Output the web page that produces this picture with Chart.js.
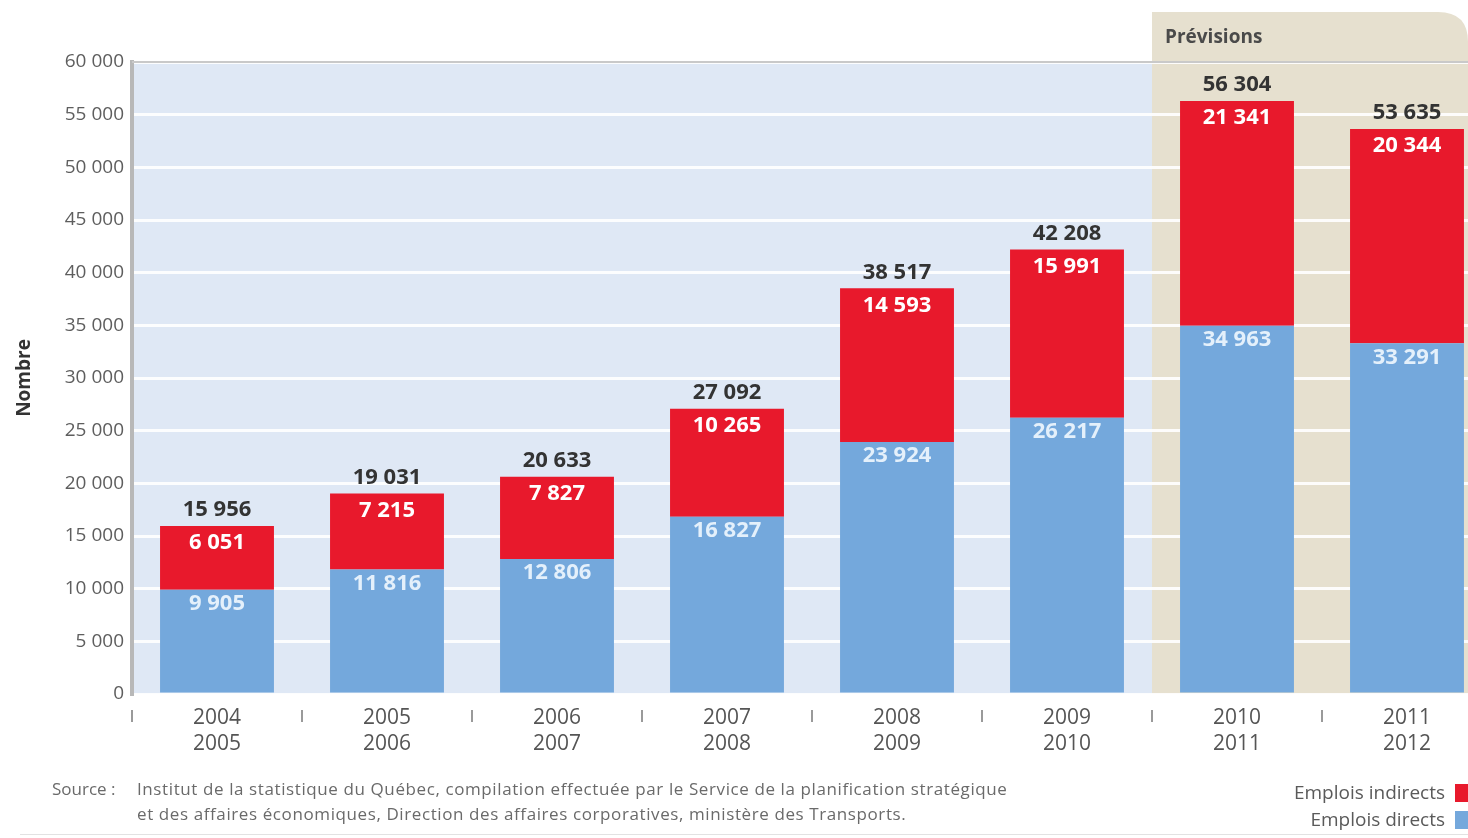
<!DOCTYPE html>
<html lang="fr">
<head>
  <meta charset="UTF-8" />
  <title>Emplois directs et indirects</title>
  <script src="https://cdn.jsdelivr.net/npm/chart.js"></script>
  <style>
    html, body { margin: 0; padding: 0; background: #fff; overflow: hidden; }
    .wrap { position: relative; width: 1468px; height: 838px; overflow: hidden; font-family: "Open Sans", sans-serif; }
    #chart { position: absolute; left: 0; top: 0; }
    .source { position: absolute; left: 52px; top: 776px; font-size: 17px; color: #6a6a6a; line-height: 25px; white-space: nowrap; }
    .source .lbl { position: absolute; left: 0; top: 0; }
    .source .txt { position: absolute; left: 85px; top: 0; letter-spacing: 0.6px; }
    .legend { position: absolute; right: 0; top: 779px; font-size: 19px; color: #5a5a5a; line-height: 27px; }
    .legend div { display: flex; justify-content: flex-end; align-items: center; }
    .legend span.box { display: inline-block; width: 13px; height: 18px; margin-left: 10px; }
    .footline { position: absolute; left: 20px; right: 0; top: 834px; border-top: 1px solid #e2e2e2; }
  </style>
</head>
<body>
  <div class="wrap">
    <canvas id="chart" width="1500" height="838"></canvas>
    <div class="source">
      <span class="lbl">Source :</span>
      <span class="txt">Institut de la statistique du Québec, compilation effectuée par le Service de la planification stratégique<br>et des affaires économiques, Direction des affaires corporatives, ministère des Transports.</span>
    </div>
    <div class="legend" id="legend"></div>
    <div class="footline"></div>
  </div>

  <script>
    const categories = [
      ['2004', '2005'], ['2005', '2006'], ['2006', '2007'], ['2007', '2008'],
      ['2008', '2009'], ['2009', '2010'], ['2010', '2011'], ['2011', '2012']
    ];
    const emploisDirects = [9905, 11816, 12806, 16827, 23924, 26217, 34963, 33291];
    const emploisIndirects = [6051, 7215, 7827, 10265, 14593, 15991, 21341, 20344];
    const totaux = [15956, 19031, 20633, 27092, 38517, 42208, 56304, 53635];
    const yMax = 60000;
    const yStep = 5000;
    const firstForecast = 6; // 2010-2011 onward are "Prévisions"

    const RED = '#e8192c';
    const BLUE = '#74a8dc';
    const FONT = '"Open Sans", sans-serif';

    const fmt = v => String(v).replace(/\B(?=(\d{3})+(?!\d))/g, ' ');

    document.getElementById('legend').innerHTML = `
      <div>Emplois indirects<span class="box" style="background:${RED}"></span></div>
      <div>Emplois directs<span class="box" style="background:${BLUE}"></span></div>`;

    // plot background + forecast zone
    const backdrop = {
      id: 'backdrop',
      beforeDraw(chart) {
        const { ctx, chartArea: a, scales: { x } } = chart;
        ctx.save();
        ctx.fillStyle = '#dfe8f5';
        ctx.fillRect(a.left, a.top, a.right - a.left, a.bottom - a.top);

        const half = (x.getPixelForValue(1) - x.getPixelForValue(0)) / 2;
        const zx = x.getPixelForValue(firstForecast) - half;
        const zr = 1468, zt = 12, r = 30;
        ctx.fillStyle = '#e6e0cf';
        ctx.beginPath();
        ctx.moveTo(zx, a.bottom);
        ctx.lineTo(zx, zt);
        ctx.lineTo(zr - r, zt);
        ctx.quadraticCurveTo(zr, zt, zr, zt + r);
        ctx.lineTo(zr, a.bottom);
        ctx.closePath();
        ctx.fill();

        ctx.fillStyle = '#4a4a4a';
        ctx.font = 'bold 19px ' + FONT;
        ctx.textBaseline = 'middle';
        ctx.fillText('Prévisions', zx + 13, 38);
        ctx.restore();
      },
      beforeDatasetsDraw(chart) {
        const { ctx, chartArea: a } = chart;
        ctx.save();
        ctx.strokeStyle = '#c9c9c9';
        ctx.lineWidth = 2;
        ctx.beginPath();
        ctx.moveTo(a.left, a.top);
        ctx.lineTo(1468, a.top);
        ctx.stroke();
        ctx.restore();
      },
      afterDraw(chart) {
        const { ctx, chartArea: a, scales: { x } } = chart;
        const half = (x.getPixelForValue(1) - x.getPixelForValue(0)) / 2;
        ctx.save();
        ctx.strokeStyle = '#9a9a9a';
        ctx.lineWidth = 2;
        categories.forEach((c, i) => {
          const px = x.getPixelForValue(i) - half;
          ctx.beginPath();
          ctx.moveTo(px, a.bottom + 16);
          ctx.lineTo(px, a.bottom + 28);
          ctx.stroke();
        });
        ctx.restore();
      }
    };

    // value labels on segments and totals on top
    const valueLabels = {
      id: 'valueLabels',
      afterDatasetsDraw(chart) {
        const { ctx } = chart;
        const blue = chart.getDatasetMeta(0).data;
        const red = chart.getDatasetMeta(1).data;
        ctx.save();
        ctx.textAlign = 'center';
        ctx.textBaseline = 'middle';
        ctx.font = 'bold 22px ' + FONT;
        blue.forEach((bar, i) => {
          ctx.fillStyle = '#e4f0fb';
          ctx.fillText(fmt(emploisDirects[i]), bar.x, bar.y + 14);
        });
        red.forEach((bar, i) => {
          ctx.fillStyle = '#ffffff';
          ctx.fillText(fmt(emploisIndirects[i]), bar.x, bar.y + 17);
          ctx.fillStyle = '#333333';
          ctx.fillText(fmt(totaux[i]), bar.x, bar.y - 16);
        });
        ctx.restore();
      }
    };

    new Chart(document.getElementById('chart'), {
      type: 'bar',
      data: {
        labels: categories,
        datasets: [
          { label: 'Emplois directs', data: emploisDirects, backgroundColor: BLUE },
          { label: 'Emplois indirects', data: emploisIndirects, backgroundColor: RED }
        ]
      },
      options: {
        responsive: false,
        animation: false,
        devicePixelRatio: 1,
        layout: { padding: { top: 62, right: 8, bottom: 0, left: 0 } },
        datasets: { bar: { barPercentage: 0.67, categoryPercentage: 1 } },
        plugins: { legend: { display: false }, tooltip: { enabled: false } },
        scales: {
          x: {
            stacked: true,
            grid: { display: false },
            border: { display: false },
            ticks: { color: '#555', font: { family: FONT, size: 21, lineHeight: 1.25 }, padding: 3, maxRotation: 0 },
            afterFit: s => { s.height = 144; }
          },
          y: {
            stacked: true,
            min: 0,
            max: yMax,
            ticks: {
              stepSize: yStep,
              color: '#5e5e5e',
              padding: 8,
              font: { family: FONT, size: 19 },
              callback: v => fmt(v)
            },
            grid: { color: 'rgba(255,255,255,0.9)', lineWidth: 3, drawTicks: false },
            border: { display: true, color: '#b8b8b8', width: 4 },
            title: {
              display: true,
              text: 'Nombre',
              color: '#333',
              font: { family: FONT, size: 19, weight: 'bold' },
              padding: { top: 13, bottom: 0 }
            },
            afterFit: s => { s.width = 132; }
          }
        }
      },
      plugins: [backdrop, valueLabels]
    });
  </script>
</body>
</html>
